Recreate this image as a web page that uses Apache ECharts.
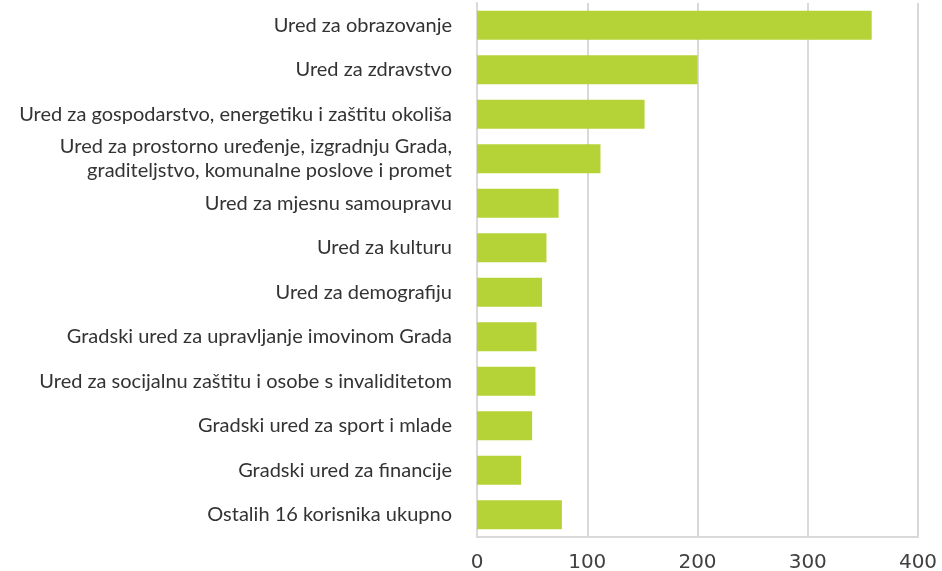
<!DOCTYPE html>
<html><head><meta charset="utf-8">
<script src="https://cdn.jsdelivr.net/npm/echarts@6/dist/echarts.min.js"></script>
<style>html,body{margin:0;padding:0;background:#fff}#c{width:942px;height:571px}</style>
</head><body><div id="c"></div>
<script>
const categories = [
  "Ured za obrazovanje",
  "Ured za zdravstvo",
  "Ured za gospodarstvo, energetiku i zaštitu okoliša",
  "Ured za prostorno uređenje, izgradnju Grada,\ngraditeljstvo, komunalne poslove i promet",
  "Ured za mjesnu samoupravu",
  "Ured za kulturu",
  "Ured za demografiju",
  "Gradski ured za upravljanje imovinom Grada",
  "Ured za socijalnu zaštitu i osobe s invaliditetom",
  "Gradski ured za sport i mlade",
  "Gradski ured za financije",
  "Ostalih 16 korisnika ukupno"
];
const values = [358, 200, 152, 112, 74, 63, 59, 54, 53, 50, 40, 77];
const xTicks = [0, 100, 200, 300, 400];

const chart = echarts.init(document.getElementById('c'));
chart.setOption({
  animation: false,
  grid: { left: 477, right: 24, top: 3, bottom: 34, containLabel: false, outerBoundsMode: 'none' },
  xAxis: {
    type: 'value', min: xTicks[0], max: xTicks[xTicks.length - 1], interval: 100,
    axisLine: { show: true, lineStyle: { color: '#d9d9d9', width: 2 } },
    axisTick: { show: false },
    splitLine: { show: true, lineStyle: { color: '#d9d9d9', width: 2 } },
    axisLabel: { color: '#404040', fontFamily: 'DejaVu Sans', fontSize: 20, margin: 16 }
  },
  yAxis: {
    type: 'category', inverse: true, data: categories,
    axisLine: { show: true, lineStyle: { color: '#d9d9d9', width: 2 } },
    axisTick: { show: false },
    axisLabel: { color: '#333', fontFamily: 'Lato', fontSize: 20, lineHeight: 24, margin: 25 }
  },
  series: [{
    type: 'bar', data: values, barCategoryGap: '35%',
    itemStyle: { color: '#b5d336' }
  }]
});
</script></body></html>
